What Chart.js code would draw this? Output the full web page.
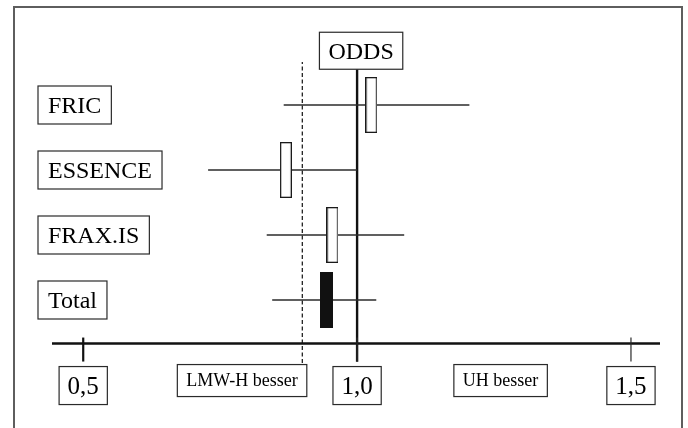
<!DOCTYPE html>
<html>
<head>
<meta charset="utf-8">
<script src="https://cdn.jsdelivr.net/npm/chart.js@4.4.1/dist/chart.umd.min.js"></script>
<style>
  html, body { margin: 0; padding: 0; background: #fff; }
  #wrap { width: 688px; height: 428px; position: relative; }
</style>
</head>
<body>
<div id="wrap"><canvas id="chart"></canvas></div>
<script>
// Studien von oben nach unten, Odds Ratio mit Konfidenzintervall
const studies = ['FRIC', 'ESSENCE', 'FRAX.IS', 'Total'];
const odds = [1.026, 0.870, 0.955, 0.945];
const ciLow = [0.866, 0.728, 0.835, 0.845];
const ciHigh = [1.205, 1.000, 1.086, 1.035];
const pooled = [false, false, false, true];

// Achse
const tickValues = [0.5, 1.0, 1.5];
const tickLabels = ['0,5', '1,0', '1,5'];
const refLine = 1.0;
const marginLine = 0.9;
const sideLabels = ['LMW-H besser', 'UH besser'];
const sideAt = [0.79, 1.262];

const SERIF = '"Liberation Serif", "Times New Roman", serif';
const INK = '#000';

// row 0 sits on top
const rowY = i => studies.length - i;
const axisAt = 0.33;   // height of the x axis line in y units
const refSpan = [0.05, 4.55];
const marginSpan = [0.03, 4.66];

function makeBox(w, h, filled) {
    const c = document.createElement('canvas');
    c.width = w;
    c.height = h;
    const g = c.getContext('2d');
    if (filled) {
        g.fillStyle = '#111';
        g.fillRect(0, 0, w, h);
    } else {
        g.fillStyle = '#fff';
        g.fillRect(0, 0, w, h);
        g.strokeStyle = '#1a1a1a';
        g.lineWidth = 1.3;
        g.strokeRect(0.65, 0.65, w - 1.3, h - 1.3);
    }
    return c;
}
const openBox = makeBox(12, 56, false);
const fullBox = makeBox(13, 56, true);

function boxedText(ctx, text, cx, top, h, size, padX, alignLeft) {
    ctx.font = size + 'px ' + SERIF;
    const w = ctx.measureText(text).width + padX * 2;
    const left = alignLeft ? cx : cx - w / 2;
    ctx.fillStyle = '#fff';
    ctx.fillRect(left, top, w, h);
    ctx.strokeStyle = '#2a2a2a';
    ctx.lineWidth = 1.2;
    ctx.strokeRect(left, top, w, h);
    ctx.fillStyle = INK;
    ctx.textAlign = 'left';
    ctx.textBaseline = 'alphabetic';
    ctx.fillText(text, left + padX, top + h / 2 + size * 0.33);
}

const forestDecor = {
    id: 'forestDecor',
    beforeDraw(chart) {
        const ctx = chart.ctx;
        ctx.save();
        ctx.fillStyle = '#fff';
        ctx.fillRect(0, 0, chart.width, chart.height);
        ctx.strokeStyle = '#5e5e5e';
        ctx.lineWidth = 2;
        ctx.strokeRect(14, 7, 668, 440);
        ctx.restore();
    },
    afterDraw(chart) {
        const ctx = chart.ctx;
        const x = chart.scales.x;
        const y = chart.scales.y;
        const area = chart.chartArea;
        const axisY = y.getPixelForValue(axisAt);
        ctx.save();

        // x axis
        ctx.strokeStyle = '#111';
        ctx.lineWidth = 2.6;
        ctx.beginPath();
        ctx.moveTo(area.left, axisY);
        ctx.lineTo(area.right, axisY);
        ctx.stroke();

        ctx.lineWidth = 2.2;
        tickValues.forEach((v, i) => {
            const px = x.getPixelForValue(v);
            ctx.beginPath();
            ctx.moveTo(px, axisY - 6);
            ctx.lineTo(px, axisY + 18);
            ctx.stroke();
            boxedText(ctx, tickLabels[i], px, axisY + 23, 38, 25, 8.5, false);
        });

        sideLabels.forEach((t, i) => {
            boxedText(ctx, t, x.getPixelForValue(sideAt[i]), axisY + 21, 32, 18, 9, false);
        });

        // study labels
        studies.forEach((s, i) => {
            const cy = y.getPixelForValue(rowY(i));
            boxedText(ctx, s, 38, cy - 19, 38, 24, 10, true);
        });

        // ODDS header on top of the reference line
        const refTop = y.getPixelForValue(refSpan[1]);
        boxedText(ctx, 'ODDS', x.getPixelForValue(refLine) + 4, refTop - 37, 37, 24, 9, false);

        ctx.restore();
    }
};

const datasets = [];

datasets.push({
    data: odds.map((v, i) => ({ x: v, y: rowY(i) })),
    pointStyle: pooled.map(p => (p ? fullBox : openBox)),
    pointRadius: 6,
    order: 0
});

studies.forEach((s, i) => {
    datasets.push({
        data: [{ x: ciLow[i], y: rowY(i) }, { x: ciHigh[i], y: rowY(i) }],
        showLine: true,
        borderColor: '#2b2b2b',
        borderWidth: 1.3,
        pointRadius: 0,
        order: 1
    });
});

datasets.push({
    data: [{ x: refLine, y: refSpan[0] }, { x: refLine, y: refSpan[1] }],
    showLine: true,
    borderColor: '#111',
    borderWidth: 2.4,
    pointRadius: 0,
    order: 2
});

datasets.push({
    data: [{ x: marginLine, y: marginSpan[0] }, { x: marginLine, y: marginSpan[1] }],
    showLine: true,
    borderColor: '#222',
    borderWidth: 1.3,
    borderDash: [4, 2.5],
    pointRadius: 0,
    order: 2
});

new Chart(document.getElementById('chart'), {
    type: 'scatter',
    data: { datasets },
    options: {
        responsive: true,
        maintainAspectRatio: false,
        animation: false,
        events: [],
        layout: { padding: { left: 52, right: 28, top: 40, bottom: 63 } },
        plugins: {
            legend: { display: false },
            tooltip: { enabled: false }
        },
        scales: {
            x: { type: 'linear', min: 0.443, max: 1.553, display: false },
            y: { type: 'linear', min: 0, max: 5, display: false }
        }
    },
    plugins: [forestDecor]
});
</script>
</body>
</html>
